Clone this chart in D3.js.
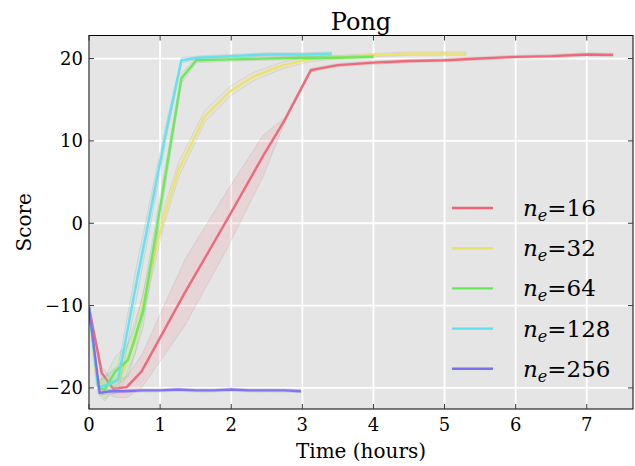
<!DOCTYPE html>
<html>
<head>
<meta charset="utf-8">
<script src="https://cdn.jsdelivr.net/npm/d3@7"></script>
</head>
<body style="margin:0;background:#fff">
<div id="chart"></div>
<script>
// values
const nE = [16, 32, 64, 128, 256];
const colors = ["#ef6374", "#ece26a", "#67e957", "#5fe0ef", "#7a6ff4"];

const time16  = [0, 0.18, 0.34, 0.53, 0.74, 1.35, 1.94, 2.45, 2.75, 3.12, 3.5, 4.0, 4.5, 5.0, 5.5, 6.0, 6.5, 7.0, 7.37];
const score16 = [-10.2, -18.2, -20.1, -19.9, -18.0, -8.4, 0.4, 8.2, 12.5, 18.6, 19.2, 19.5, 19.7, 19.8, 20.0, 20.2, 20.3, 20.5, 20.45];
const sd16    = [0, 0.8, 1.0, 1.3, 2.0, 4.0, 3.5, 2.5, 0.3, 0.2, 0.2, 0.2, 0.2, 0.2, 0.2, 0.2, 0.2, 0.2, 0.2];

const time32  = [0, 0.1, 0.22, 0.44, 0.65, 0.86, 1.06, 1.26, 1.63, 1.98, 2.31, 2.73, 3.1, 3.5, 4.0, 4.5, 5.0, 5.3];
const score32 = [-10.2, -18.5, -20.0, -18.6, -14.2, -6.0, 1.0, 6.5, 13.0, 16.0, 17.8, 19.2, 19.9, 20.2, 20.4, 20.6, 20.6, 20.6];
const sd32    = [0, 1.0, 1.3, 1.6, 1.6, 1.3, 1.0, 0.9, 0.7, 0.6, 0.5, 0.4, 0.3, 0.2, 0.2, 0.2, 0.2, 0.2];

const time64  = [0, 0.13, 0.22, 0.37, 0.55, 0.76, 1.30, 1.51, 2.0, 2.5, 3.0, 3.5, 4.0];
const score64 = [-10.2, -19.9, -20.2, -18.0, -16.6, -10.7, 17.6, 19.8, 19.9, 20.0, 20.1, 20.1, 20.2];
const sd64    = [0, 0.8, 1.4, 1.8, 2.0, 2.0, 0.6, 0.3, 0.2, 0.2, 0.2, 0.2, 0.2];

const time128  = [0, 0.13, 0.27, 0.41, 0.65, 0.86, 1.07, 1.30, 1.53, 2.0, 2.5, 3.0, 3.41];
const score128 = [-10.2, -19.9, -19.6, -19.0, -8.0, 1.2, 10.5, 19.8, 20.1, 20.3, 20.5, 20.5, 20.6];
const sd128    = [0, 0.8, 1.2, 1.6, 2.0, 1.6, 1.0, 0.3, 0.2, 0.2, 0.2, 0.2, 0.2];

const time256  = [0, 0.15, 0.3, 0.5, 0.75, 1.0, 1.25, 1.5, 1.75, 2.0, 2.25, 2.5, 2.75, 2.98];
const score256 = [-10.2, -20.6, -20.4, -20.4, -20.3, -20.3, -20.2, -20.3, -20.3, -20.2, -20.3, -20.3, -20.3, -20.4];
const sd256    = [0, 0.3, 0.2, 0.2, 0.2, 0.2, 0.2, 0.2, 0.2, 0.2, 0.2, 0.2, 0.2, 0.2];

const xTicks = [0, 1, 2, 3, 4, 5, 6, 7];
const yTicks = [-20, -10, 0, 10, 20];

const runs = [
  { n: nE[0], t: time16,  s: score16,  sd: sd16,  c: colors[0] },
  { n: nE[1], t: time32,  s: score32,  sd: sd32,  c: colors[1] },
  { n: nE[2], t: time64,  s: score64,  sd: sd64,  c: colors[2] },
  { n: nE[3], t: time128, s: score128, sd: sd128, c: colors[3] },
  { n: nE[4], t: time256, s: score256, sd: sd256, c: colors[4] }
];

const width = 635, height = 466;
const margin = { top: 35.5, right: 2, bottom: 57, left: 89 };
const serif = "DejaVu Serif";

const svg = d3.select("#chart").append("svg")
    .attr("width", width)
    .attr("height", height)
    .style("font-family", serif);

const x = d3.scaleLinear().domain([0, 7.65]).range([margin.left, width - margin.right]);
const y = d3.scaleLinear().domain([-22.56, 22.8]).range([height - margin.bottom, margin.top]);

const x0 = x.range()[0], x1 = x.range()[1];
const y0 = y.range()[0], y1 = y.range()[1];

// plot background
svg.append("rect")
    .attr("x", x0).attr("y", y1)
    .attr("width", x1 - x0).attr("height", y0 - y1)
    .attr("fill", "#e5e5e5");

// grid
const grid = svg.append("g").attr("stroke", "#fff").attr("stroke-width", 1.8);
grid.selectAll(".gx").data(xTicks).enter().append("line")
    .attr("x1", d => x(d)).attr("x2", d => x(d))
    .attr("y1", y1).attr("y2", y0);
grid.selectAll(".gy").data(yTicks).enter().append("line")
    .attr("x1", x0).attr("x2", x1)
    .attr("y1", d => y(d)).attr("y2", d => y(d));

// clip for the data
svg.append("clipPath").attr("id", "plot-clip")
  .append("rect")
    .attr("x", x0).attr("y", y1)
    .attr("width", x1 - x0).attr("height", y0 - y1);

const plot = svg.append("g").attr("clip-path", "url(#plot-clip)");

const area = d3.area()
    .x(d => x(d[0]))
    .y0(d => y(d[1] - d[2]))
    .y1(d => y(d[1] + d[2]));

const line = d3.line()
    .x(d => x(d[0]))
    .y(d => y(d[1]));

runs.forEach(r => {
    const pts = r.t.map((t, i) => [t, r.s[i], r.sd[i]]);
    plot.append("path")
        .datum(pts)
        .attr("d", area)
        .attr("fill", r.c)
        .attr("fill-opacity", 0.13)
        .attr("stroke", "#888")
        .attr("stroke-opacity", 0.18)
        .attr("stroke-width", 1);
    plot.append("path")
        .datum(pts)
        .attr("d", line)
        .attr("fill", "none")
        .attr("stroke", r.c)
        .attr("stroke-width", 2.4)
        .attr("stroke-opacity", 0.95)
        .attr("stroke-linejoin", "round");
});

// frame
svg.append("rect")
    .attr("x", x0).attr("y", y1)
    .attr("width", x1 - x0).attr("height", y0 - y1)
    .attr("fill", "none")
    .attr("stroke", "#000")
    .attr("stroke-width", 1);

// inward ticks on all four sides
const ticks = svg.append("g").attr("stroke", "#333").attr("stroke-width", 1);
const tl = 5;
xTicks.forEach(d => {
    ticks.append("line").attr("x1", x(d)).attr("x2", x(d)).attr("y1", y0).attr("y2", y0 - tl);
    ticks.append("line").attr("x1", x(d)).attr("x2", x(d)).attr("y1", y1).attr("y2", y1 + tl);
});
yTicks.forEach(d => {
    ticks.append("line").attr("x1", x0).attr("x2", x0 + tl).attr("y1", y(d)).attr("y2", y(d));
    ticks.append("line").attr("x1", x1).attr("x2", x1 - tl).attr("y1", y(d)).attr("y2", y(d));
});

const fmt = d => (d < 0 ? "\u2212" : "") + Math.abs(d);

svg.append("g").selectAll("text").data(xTicks).enter().append("text")
    .attr("x", d => x(d))
    .attr("y", y0 + 22)
    .attr("text-anchor", "middle")
    .attr("font-size", 18)
    .text(fmt);

svg.append("g").selectAll("text").data(yTicks).enter().append("text")
    .attr("x", x0 - 6)
    .attr("y", d => y(d) + 6.5)
    .attr("text-anchor", "end")
    .attr("font-size", 18)
    .text(fmt);

// title and axis labels
svg.append("text")
    .attr("x", (x0 + x1) / 2)
    .attr("y", 30)
    .attr("text-anchor", "middle")
    .attr("font-size", 24)
    .text("Pong");

svg.append("text")
    .attr("x", (x0 + x1) / 2)
    .attr("y", 458)
    .attr("text-anchor", "middle")
    .attr("font-size", 20)
    .text("Time (hours)");

svg.append("text")
    .attr("transform", `translate(31,${(y0 + y1) / 2}) rotate(-90)`)
    .attr("text-anchor", "middle")
    .attr("font-size", 20)
    .text("Score");

// legend
const legend = svg.append("g").attr("transform", "translate(452,208)");
runs.forEach((r, i) => {
    const g = legend.append("g").attr("transform", `translate(0,${i * 40.2})`);
    g.append("line")
        .attr("x1", 0).attr("x2", 41)
        .attr("y1", 0).attr("y2", 0)
        .attr("stroke", r.c)
        .attr("stroke-width", 2.4);
    const t = g.append("text")
        .attr("x", 71)
        .attr("y", 8)
        .attr("font-size", 23);
    t.append("tspan").attr("font-style", "italic").text("n");
    t.append("tspan").attr("font-style", "italic").attr("font-size", 16).attr("dy", 5).text("e");
    t.append("tspan").attr("dy", -5).text("=" + r.n);
});
</script>
</body>
</html>
